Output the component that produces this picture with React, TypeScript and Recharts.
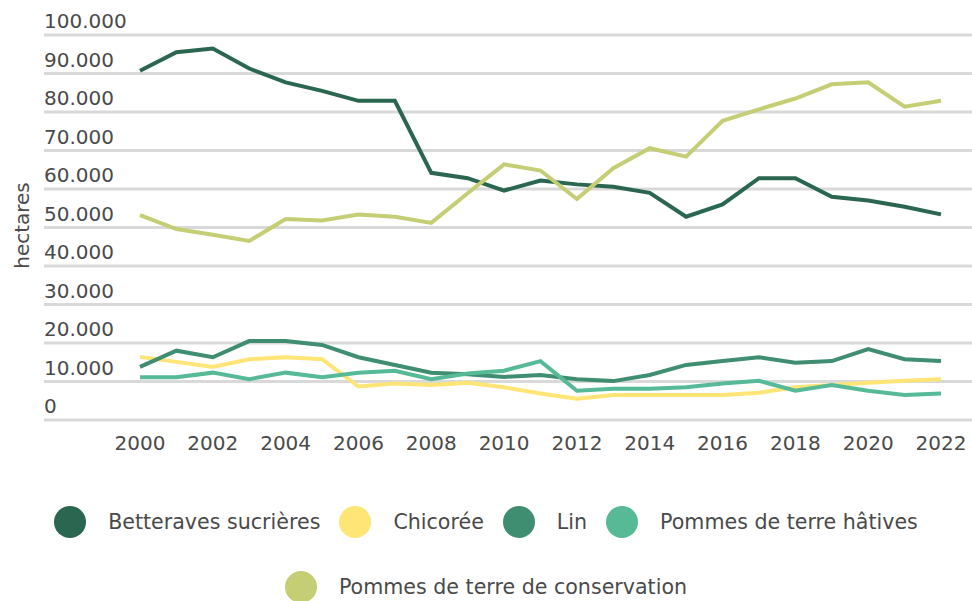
import React from "react";
import {
  LineChart,
  Line,
  XAxis,
  YAxis,
  CartesianGrid,
} from "recharts";

const years = [
  2000, 2001, 2002, 2003, 2004, 2005, 2006, 2007, 2008, 2009, 2010, 2011,
  2012, 2013, 2014, 2015, 2016, 2017, 2018, 2019, 2020, 2021, 2022,
];

const betteraves = [
  90700, 95500, 96500, 91300, 87700, 85500, 82900, 82900, 64200, 62800, 59600,
  62200, 61200, 60600, 59000, 52800, 56000, 62800, 62800, 58000, 57000, 55400,
  53400,
];
const chicoree = [
  16400, 15100, 13800, 15800, 16300, 15800, 8700, 9500, 9100, 9700, 8500, 6900,
  5500, 6500, 6500, 6500, 6500, 7100, 8500, 9100, 9700, 10200, 10600,
];
const lin = [
  13800, 18000, 16300, 20500, 20500, 19500, 16300, 14300, 12300, 11900, 11200,
  11700, 10600, 10100, 11700, 14300, 15300, 16300, 14900, 15300, 18400, 15800,
  15300,
];
const hatives = [
  11100, 11100, 12300, 10600, 12300, 11100, 12300, 12800, 10600, 12100, 12800,
  15300, 7600, 8100, 8100, 8500, 9500, 10200, 7600, 9100, 7600, 6500, 6900,
];
const conservation = [
  53200, 49600, 48100, 46500, 52200, 51800, 53400, 52800, 51200, 58900, 66400,
  64800, 57400, 65400, 70600, 68400, 77700, 80700, 83500, 87200, 87700, 81400,
  82900,
];

const yTicks = [0, 10000, 20000, 30000, 40000, 50000, 60000, 70000, 80000, 90000, 100000];
const xTicks = [2000, 2002, 2004, 2006, 2008, 2010, 2012, 2014, 2016, 2018, 2020, 2022];

const series = [
  { key: "betteraves", name: "Betteraves sucrières", color: "#2b6650" },
  { key: "chicoree", name: "Chicorée", color: "#ffe576" },
  { key: "lin", name: "Lin", color: "#3f8e71" },
  { key: "hatives", name: "Pommes de terre hâtives", color: "#56ba97" },
  { key: "conservation", name: "Pommes de terre de conservation", color: "#c5ce74" },
];

const data = years.map((year, i) => ({
  year,
  betteraves: betteraves[i],
  chicoree: chicoree[i],
  lin: lin[i],
  hatives: hatives[i],
  conservation: conservation[i],
}));

const FONT = "'DejaVu Sans', sans-serif";
const TEXT = "#4a4a4a";
const Y_AXIS_W = 44;

const fmt = (n: number) =>
  n.toString().replace(/\B(?=(\d{3})+(?!\d))/g, ".");

function YTick(props: any) {
  const { y, payload } = props;
  return (
    <text
      x={Y_AXIS_W}
      y={y - 14}
      dy="0.35em"
      textAnchor="start"
      fill={TEXT}
      fontSize={20}
      fontFamily={FONT}
    >
      {fmt(payload.value)}
    </text>
  );
}

function HectaresLabel(props: any) {
  const { viewBox } = props;
  const cx = viewBox.x + 22;
  const cy = viewBox.y + viewBox.height / 2 - 2;
  return (
    <text
      x={cx}
      y={cy}
      transform={`rotate(-90, ${cx}, ${cy})`}
      textAnchor="middle"
      dy="0.35em"
      fill={TEXT}
      fontSize={20}
      fontFamily={FONT}
    >
      hectares
    </text>
  );
}

export default function App() {
  return (
    <div
      style={{
        position: "absolute",
        left: 0,
        top: 0,
        width: 972,
        height: 601,
        background: "#fff",
        fontFamily: FONT,
      }}
    >
      <LineChart
        width={972}
        height={460}
        data={data}
        margin={{ top: 35, right: 0, bottom: 0, left: 0 }}
      >
        <CartesianGrid vertical={false} stroke="#d9d9d9" strokeWidth={3} />
        <XAxis
          dataKey="year"
          type="number"
          domain={[2000, 2022]}
          ticks={xTicks}
          padding={{ left: 96, right: 31 }}
          axisLine={false}
          tickLine={false}
          height={40}
          tickMargin={10}
          tick={{ fill: TEXT, fontSize: 20, fontFamily: FONT }}
        />
        <YAxis
          domain={[0, 100000]}
          ticks={yTicks}
          width={Y_AXIS_W}
          axisLine={false}
          tickLine={false}
          tick={<YTick />}
          label={<HectaresLabel />}
        />
        {series.map((s) => (
          <Line
            key={s.key}
            type="linear"
            dataKey={s.key}
            name={s.name}
            stroke={s.color}
            strokeWidth={4}
            dot={false}
            activeDot={false}
            isAnimationActive={false}
          />
        ))}
      </LineChart>

      {/* Legend */}
      <div
        style={{
          display: "flex",
          flexWrap: "wrap",
          justifyContent: "center",
          columnGap: 19,
          rowGap: 33,
          marginTop: 46,
          width: 972,
        }}
      >
        {series.map((s) => (
          <div
            key={s.key}
            style={{ display: "flex", alignItems: "center", gap: 22, height: 32 }}
          >
            <div
              style={{
                width: 32,
                height: 32,
                borderRadius: "50%",
                background: s.color,
              }}
            />
            <span style={{ fontSize: 20.6, color: TEXT }}>{s.name}</span>
          </div>
        ))}
      </div>
    </div>
  );
}
